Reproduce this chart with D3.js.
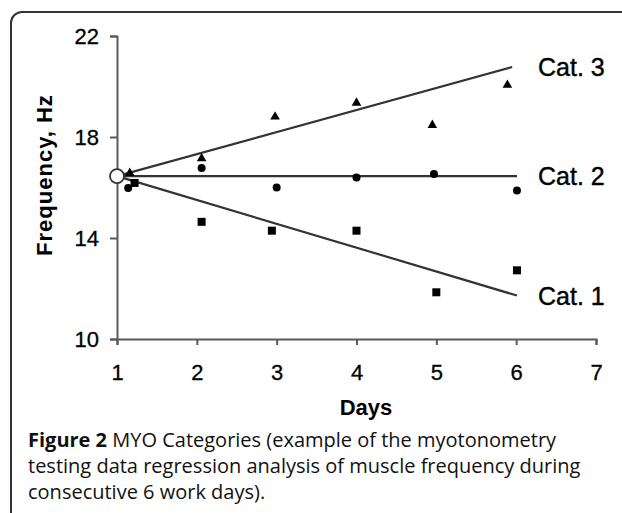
<!DOCTYPE html>
<html>
<head>
<meta charset="utf-8">
<script src="https://cdn.jsdelivr.net/npm/d3@7"></script>
<style>
  body { margin: 0; background: #fff; }
  svg { display: block; }
  .axis path, .axis line { stroke: #5a5a5a; stroke-width: 2; }
</style>
</head>
<body>
<script>
// data
const xTicks = [1, 2, 3, 4, 5, 6, 7]
const yTicks = [10, 14, 18, 22]

const cat1Days = [1.22, 2.06, 2.94, 4.0, 5.0, 6.01]
const cat1Values = [16.18, 14.64, 14.29, 14.29, 11.85, 12.72]
const cat2Days = [1.14, 2.06, 3.0, 4.0, 4.97, 6.01]
const cat2Values = [15.98, 16.77, 16.0, 16.4, 16.53, 15.88]
const cat3Days = [1.16, 2.06, 2.98, 4.0, 4.95, 5.89]
const cat3Values = [16.57, 17.15, 18.8, 19.35, 18.47, 20.06]

// regression lines: common start, one end per category
const lineStart = [1.0, 16.45]
const lineEnds = { 'Cat. 1': [6.01, 11.72], 'Cat. 2': [6.01, 16.45], 'Cat. 3': [5.95, 20.77] }
const catLabels = ['Cat. 3', 'Cat. 2', 'Cat. 1']

const captionLines = [
    ['Figure 2', ' MYO Categories (example of the myotonometry'],
    ['', 'testing data regression analysis of muscle frequency during'],
    ['', 'consecutive 6 work days).']
]

const sans = '"Liberation Sans", Arial, sans-serif'
const W = 622, H = 513
const svg = d3.select('body').append('svg')
    .attr('width', W)
    .attr('height', H)

// frame with rounded corner, runs off the right and bottom
svg.append('rect')
    .attr('x', 11).attr('y', 12)
    .attr('width', 640).attr('height', 540)
    .attr('rx', 11)
    .attr('fill', 'none')
    .attr('stroke', '#333')
    .attr('stroke-width', 2)

const xScale = d3.scaleLinear().domain([1, 7]).range([117, 596])
const yScale = d3.scaleLinear().domain([10, 22]).range([339, 36])

const xAxis = d3.axisBottom(xScale).tickValues(xTicks).tickFormat(d3.format('d'))
    .tickSize(6).tickPadding(19)
svg.append('g')
    .attr('class', 'x axis')
    .attr('transform', `translate(0,${yScale(10)})`)
    .call(xAxis)

const yAxis = d3.axisLeft(yScale).tickValues(yTicks).tickFormat(d3.format('d'))
    .tickSize(7).tickPadding(11)
svg.append('g')
    .attr('class', 'y axis')
    .attr('transform', `translate(${xScale(1)},0)`)
    .call(yAxis)

svg.selectAll('.axis text')
    .attr('font-family', sans)
    .attr('font-size', 22)
    .attr('fill', '#000')
    .attr('stroke', '#000')
    .attr('stroke-width', 0.3)

// axis titles
svg.append('text')
    .attr('x', 366).attr('y', 415)
    .attr('text-anchor', 'middle')
    .attr('font-family', sans)
    .attr('font-size', 22).attr('font-weight', 'bold')
    .text('Days')

svg.append('text')
    .attr('transform', `translate(52,175) rotate(-90)`)
    .attr('text-anchor', 'middle')
    .attr('font-family', sans)
    .attr('font-size', 22).attr('font-weight', 'bold')
    .attr('letter-spacing', 1)
    .text('Frequency, Hz')

// regression lines
const plot = svg.append('g')
catLabels.forEach(c => {
    const end = lineEnds[c]
    plot.append('line')
        .attr('x1', xScale(lineStart[0])).attr('y1', yScale(lineStart[1]))
        .attr('x2', xScale(end[0])).attr('y2', yScale(end[1]))
        .attr('stroke', '#333')
        .attr('stroke-width', 2.2)
})

// markers
const zip = (xs, ys) => xs.map((x, i) => ({ x, y: ys[i] }))

plot.selectAll('.sq').data(zip(cat1Days, cat1Values))
    .enter().append('rect')
    .attr('class', 'sq')
    .attr('x', d => xScale(d.x) - 4)
    .attr('y', d => yScale(d.y) - 4)
    .attr('width', 8).attr('height', 8)
    .attr('fill', '#000')

plot.selectAll('.dot').data(zip(cat2Days, cat2Values))
    .enter().append('circle')
    .attr('class', 'dot')
    .attr('cx', d => xScale(d.x))
    .attr('cy', d => yScale(d.y))
    .attr('r', 4)
    .attr('fill', '#000')

const tri = d3.symbol().type(d3.symbolTriangle).size(40)
plot.selectAll('.tri').data(zip(cat3Days, cat3Values))
    .enter().append('path')
    .attr('class', 'tri')
    .attr('d', tri)
    .attr('transform', d => `translate(${xScale(d.x)},${yScale(d.y)})`)
    .attr('fill', '#000')

// open circle at the common origin
plot.append('circle')
    .attr('cx', xScale(lineStart[0]))
    .attr('cy', yScale(lineStart[1]))
    .attr('r', 7)
    .attr('fill', '#fff')
    .attr('stroke', '#333')
    .attr('stroke-width', 1.8)

// category labels next to line ends
catLabels.forEach(c => {
    const end = lineEnds[c]
    svg.append('text')
        .attr('x', 538)
        .attr('y', yScale(end[1]) + 9)
        .attr('font-family', sans)
        .attr('font-size', 25)
        .attr('stroke', '#000')
        .attr('stroke-width', 0.4)
        .text(c)
})

// caption, one text per line
captionLines.forEach((ln, i) => {
    const t = svg.append('text')
        .attr('x', 28).attr('y', 447 + i * 26)
        .attr('font-family', '"Open Sans", "Noto Sans", sans-serif')
        .attr('font-size', 20)
        .attr('fill', '#111')
    if (ln[0]) t.append('tspan').attr('font-weight', 'bold').text(ln[0])
    t.append('tspan').text(ln[1])
})
</script>
</body>
</html>
